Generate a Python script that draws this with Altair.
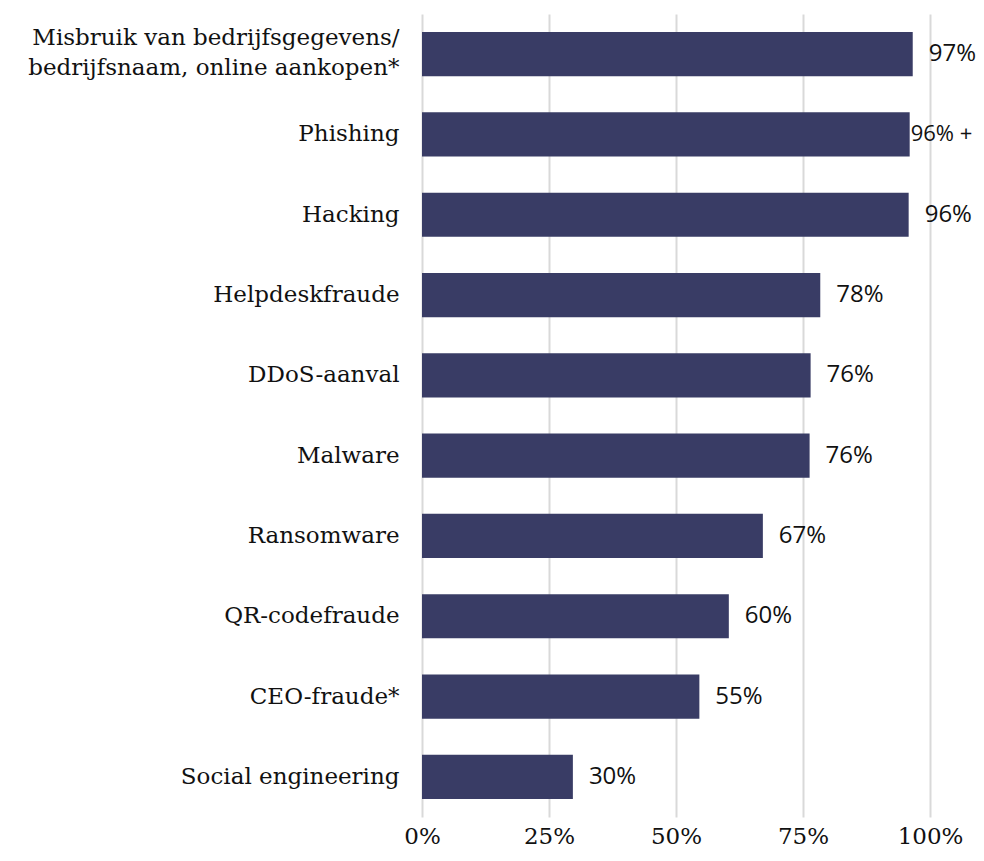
import altair as alt
import pandas as pd

categories = [
    "Misbruik van bedrijfsgegevens/|bedrijfsnaam, online aankopen*",
    "Phishing",
    "Hacking",
    "Helpdeskfraude",
    "DDoS-aanval",
    "Malware",
    "Ransomware",
    "QR-codefraude",
    "CEO-fraude*",
    "Social engineering",
]
values = [0.966, 0.960, 0.958, 0.784, 0.765, 0.763, 0.671, 0.604, 0.546, 0.297]
labels = ["97%", "96% +", "96%", "78%", "76%", "76%", "67%", "60%", "55%", "30%"]
ticks = [0, 0.25, 0.5, 0.75, 1.0]

df = pd.DataFrame({"cat": categories, "val": values, "lab": labels})

BAR = "#393c65"
SERIF = "DejaVu Serif"

y_enc = alt.Y(
    "cat:N",
    sort=categories,
    title=None,
    scale=alt.Scale(paddingInner=0.45, paddingOuter=0.225),
    axis=alt.Axis(
        domain=False,
        ticks=False,
        grid=False,
        labelFont=SERIF,
        labelFontSize=23,
        labelColor="#111111",
        labelPadding=23,
        labelLimit=500,
        labelLineHeight=30,
        labelExpr="split(datum.label, '|')",
        labelOffset={"condition": {"test": "indexof(datum.label, '|') >= 0", "value": -16}, "value": 0},
    ),
)

x_enc = alt.X(
    "val:Q",
    title=None,
    scale=alt.Scale(domain=[0, 1], nice=False),
    axis=alt.Axis(
        values=ticks,
        format=".0%",
        domain=False,
        ticks=False,
        grid=True,
        gridColor="#d9d9d9",
        gridWidth=2,
        labelFont=SERIF,
        labelFontSize=23,
        labelColor="#111111",
        labelPadding=8,
        labelFlush=False,
    ),
)

bars = alt.Chart(df).mark_bar(color=BAR).encode(y=y_enc, x=x_enc)

text_main = alt.Chart(df).transform_filter(
    "datum.lab != '96% +'"
).mark_text(
    align="left", baseline="middle", dx=16, font="Open Sans", fontSize=24, color="#111111"
).encode(y=alt.Y("cat:N", sort=categories), x=alt.X("val:Q"), text="lab:N")

text_plus = alt.Chart(df).transform_filter(
    "datum.lab == '96% +'"
).mark_text(
    align="left", baseline="middle", dx=1, font="Open Sans", fontSize=22, color="#111111"
).encode(y=alt.Y("cat:N", sort=categories), x=alt.X("val:Q"), text="lab:N")

chart = (
    alt.layer(bars, text_main, text_plus)
    .properties(
        width=508,
        height=803,
        autosize=alt.AutoSizeParams(type="none"),
        padding={"left": 414, "top": 6, "right": 46, "bottom": 32},
    )
    .configure_view(stroke=None)
)

chart.save("out.html", embed_options={"renderer": "svg", "actions": False})
